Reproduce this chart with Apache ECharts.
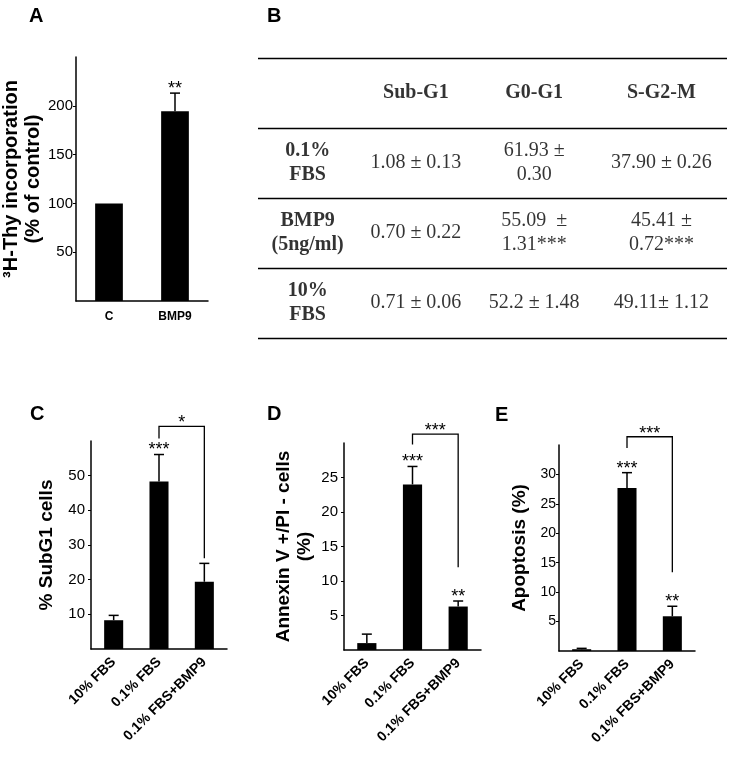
<!DOCTYPE html>
<html><head><meta charset="utf-8">
<script src="https://cdn.jsdelivr.net/npm/echarts@6/dist/echarts.min.js"></script>
<style>html,body{margin:0;padding:0;background:#fff}#c{width:733px;height:757px}</style>
</head><body><div id="c"></div>
<script>
// ---- Panel A ----
const catsA = ['C', 'BMP9'];
const valsA = [100, 194.5];
const errA = [0, 18.5];
const sigA = ['', '**'];
// ---- Panel B (table) ----
const tableCols = ['', 'Sub-G1', 'G0-G1', 'S-G2-M'];
const tableRows = ['', '0.1%\nFBS', 'BMP9\n(5ng/ml)', '10%\nFBS'];
const tableSubG1 = ['1.08 ± 0.13', '0.70 ± 0.22', '0.71 ± 0.06'];
const tableG0G1 = ['61.93 ±\n0.30', '55.09  ±\n1.31***', '52.2 ± 1.48'];
const tableSG2M = ['37.90 ± 0.26', '45.41 ±\n0.72***', '49.11± 1.12'];
// ---- Panels C, D, E ----
const catsCDE = ['10% FBS', '0.1% FBS', '0.1% FBS+BMP9'];
const valsC = [8.3, 48.3, 19.4];
const errC = [1.4, 7.8, 5.3];
const sigC = ['', '***', ''];
const bracketC = [1, 2, 64.2, 60.7, 26.2, '*'];
const valsD = [1.0, 24.0, 6.3];
const errD = [1.3, 2.6, 0.8];
const sigD = ['', '***', '**'];
const bracketD = [1, 2, 31.3, 29.8, 12.0, '***'];
const valsE = [0.3, 27.7, 5.9];
const errE = [0.15, 2.6, 1.7];
const sigE = ['', '***', '**'];
const bracketE = [1, 2, 36.4, 34.5, 13.4, '***'];

const SANS = 'Liberation Sans';
const SERIF = 'Liberation Serif';
const colShift = [-9, -18, -17, -7]; // horizontal nudge of table text per column (style)
const chart = echarts.init(document.getElementById('c'), null, {renderer: 'canvas'});

function errRender(params, api) {
  const x = api.value(0), y = api.value(1), e = api.value(2);
  const sig = api.value(3);
  const p0 = api.coord([x, y]);
  const p1 = api.coord([x, y + e]);
  const children = [];
  const st = {stroke: '#000', lineWidth: 1.5};
  if (e > 0) {
    children.push({type: 'line', shape: {x1: p0[0], y1: p0[1], x2: p1[0], y2: p1[1]}, style: st});
    children.push({type: 'line', shape: {x1: p1[0] - 5, y1: p1[1], x2: p1[0] + 5, y2: p1[1]}, style: st});
  }
  if (sig) {
    children.push({type: 'text', x: p1[0], y: p1[1] - 4,
      style: {text: sig, fill: '#000', font: '18px ' + SANS, align: 'center', verticalAlign: 'middle'}});
  }
  return {type: 'group', children};
}
function bracketRender(params, api) {
  const a = api.value(0), b = api.value(1), top = api.value(2), l = api.value(3), r = api.value(4);
  const lab = api.value(5);
  const pa = api.coord([a, l]), pat = api.coord([a, top]), pbt = api.coord([b, top]), pb = api.coord([b, r]);
  return {type: 'group', children: [
    {type: 'polyline', shape: {points: [pa, pat, pbt, pb]}, style: {stroke: '#000', lineWidth: 1.3, fill: null}},
    {type: 'text', x: (pat[0] + pbt[0]) / 2, y: pat[1] - 3,
      style: {text: lab, fill: '#000', font: '18px ' + SANS, align: 'center', verticalAlign: 'middle'}}
  ]};
}

function yAxisDef(grid, max, interval, labels, name, gap, fs, lm, nfs) {
  return {
    type: 'value', gridIndex: grid, min: 0, max: max, interval: interval,
    name: name, nameLocation: 'middle', nameGap: gap, nameRotate: 90,
    nameTextStyle: {fontFamily: SANS, fontWeight: 'bold', fontSize: nfs || 19, color: '#000', lineHeight: (nfs || 19) + 2},
    axisLine: {show: true, lineStyle: {color: '#000', width: 1.5}},
    axisTick: {show: true, length: 3, inside: false, customValues: labels, lineStyle: {color: '#000', width: 1}},
    axisLabel: {customValues: labels, fontFamily: SANS, fontSize: fs, color: '#000', margin: lm},
    splitLine: {show: false}
  };
}
function xAxisDef(grid, cats, rotate, fs, margin) {
  return {
    type: 'category', gridIndex: grid, data: cats,
    axisLine: {show: true, lineStyle: {color: '#000', width: 1.5}},
    axisTick: {show: false},
    axisLabel: {interval: 0, rotate: rotate, fontFamily: SANS, fontWeight: 'bold', fontSize: fs, color: '#000', margin: margin}
  };
}
function barSeries(idx, vals) {
  return {type: 'bar', xAxisIndex: idx, yAxisIndex: idx, data: vals, barWidth: '42%',
    itemStyle: {color: '#000'}, silent: true, animation: false};
}
function errSeries(idx, vals, errs, sigs) {
  return {type: 'custom', xAxisIndex: idx, yAxisIndex: idx, renderItem: errRender, clip: false,
    data: vals.map((v, i) => [i, v, errs[i], sigs[i]]), animation: false, z: 5};
}
function bracketSeries(idx, br) {
  return {type: 'custom', xAxisIndex: idx, yAxisIndex: idx, renderItem: bracketRender, clip: false,
    data: [br], animation: false, z: 5};
}

// Table cells
const headerCells = tableCols.map((t, i) => [i, 0, t]).filter(d => d[2]);
const rowCells = tableRows.map((t, i) => [0, i, t]).filter(d => d[2]);
const valueCells = [];
[tableSubG1, tableG0G1, tableSG2M].forEach((col, ci) => col.forEach((t, ri) => valueCells.push([ci + 1, ri + 1, t])));
function cellSeries(data, bold) {
  return {type: 'scatter', xAxisIndex: 1, yAxisIndex: 1, symbolSize: 0, silent: true, animation: false,
    data: data.map(d => ({value: d, label: {offset: [colShift[d[0]], 0]}})),
    label: {show: true, position: 'inside', formatter: p => p.value[2], fontFamily: SERIF, fontSize: 20,
      fontWeight: bold ? 'bold' : 'normal', color: '#000', lineHeight: 24, align: 'center', verticalAlign: 'middle'}};
}

const panelTitle = (t, l, tp) => ({text: t, left: l, top: tp, padding: 0,
  textStyle: {fontFamily: SANS, fontWeight: 'bold', fontSize: 20, color: '#000'}});
const g = (o) => Object.assign({outerBoundsMode: 'none', containLabel: false}, o);

chart.setOption({
  backgroundColor: '#fff',
  animation: false,
  title: [panelTitle('A', 29, 6), panelTitle('B', 267, 6), panelTitle('C', 30, 404), panelTitle('D', 267, 404), panelTitle('E', 495, 405)],
  grid: [
    g({left: 76, top: 57, width: 132, height: 244}),
    g({left: 258, top: 58, width: 469, height: 280}),
    g({left: 91, top: 441, width: 136, height: 208}),
    g({left: 344, top: 443, width: 137, height: 207}),
    g({left: 559, top: 445, width: 136, height: 206})
  ],
  xAxis: [
    xAxisDef(0, catsA, 0, 12, 10),
    {type: 'category', gridIndex: 1, data: tableCols, show: true, axisLine: {show: false}, axisTick: {show: false}, axisLabel: {show: false}},
    xAxisDef(2, catsCDE, 45, 14, 11),
    xAxisDef(3, catsCDE, 45, 14, 11),
    xAxisDef(4, catsCDE, 45, 14, 11)
  ],
  yAxis: [
    yAxisDef(0, 250, 50, [50, 100, 150, 200], '³H-Thy incorporation\n(% of control)', 28, 15, 3, 20),
    {type: 'category', gridIndex: 1, data: tableRows, inverse: true, axisLine: {show: false}, axisTick: {show: false}, axisLabel: {show: false},
      splitLine: {show: true, interval: 0, showMinLine: true, showMaxLine: true, lineStyle: {color: '#000', width: 1.3}}},
    yAxisDef(2, 60, 10, [10, 20, 30, 40, 50], '% SubG1 cells', 34, 15, 6),
    yAxisDef(3, 30, 5, [5, 10, 15, 20, 25], 'Annexin V +/PI - cells\n(%)', 29, 15, 6),
    yAxisDef(4, 35, 5, [5, 10, 15, 20, 25, 30], 'Apoptosis (%)', 29, 14, 3)
  ],
  series: [
    barSeries(0, valsA), errSeries(0, valsA, errA, sigA),
    cellSeries(headerCells, true), cellSeries(rowCells, true), cellSeries(valueCells, false),
    barSeries(2, valsC), errSeries(2, valsC, errC, sigC), bracketSeries(2, bracketC),
    barSeries(3, valsD), errSeries(3, valsD, errD, sigD), bracketSeries(3, bracketD),
    barSeries(4, valsE), errSeries(4, valsE, errE, sigE), bracketSeries(4, bracketE)
  ]
});
</script></body></html>
